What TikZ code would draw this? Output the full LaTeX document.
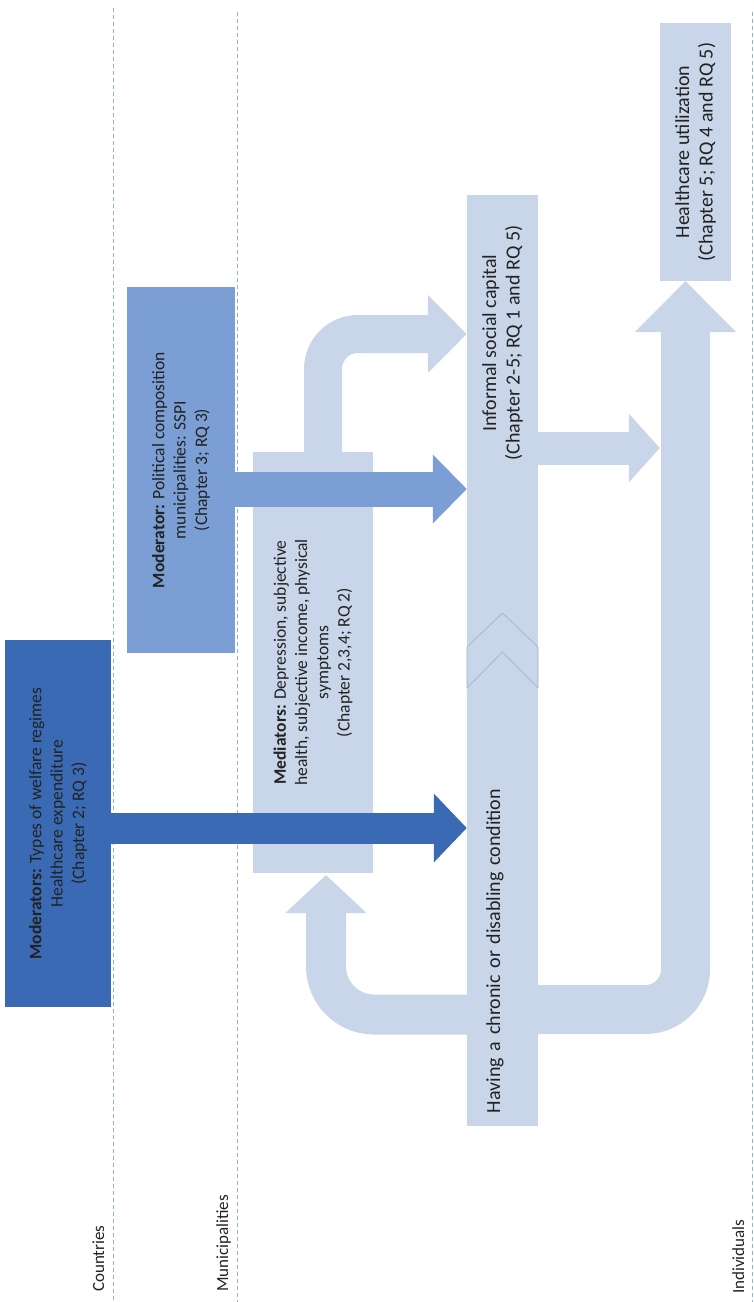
\documentclass[tikz,border=0pt]{standalone}
\usepackage{fontspec}
\setmainfont{Carlito}
\usepackage{tikz}
\usetikzlibrary{arrows.meta}
\definecolor{darkblue}{HTML}{3A6AB4}
\definecolor{midblue}{HTML}{7B9FD4}
\definecolor{paleblue}{HTML}{C9D6EA}
\definecolor{levelline}{HTML}{8FB4DC}
\definecolor{chevline}{HTML}{9CAFCB}
\definecolor{txt}{HTML}{222222}

\begin{document}
\begin{tikzpicture}[x=1pt, y=-1pt,
  box/.style={rotate=90, inner sep=0pt, align=center, text=txt,
    font=\fontsize{17.5}{21.3}\selectfont},
  big/.style={box, font=\fontsize{20}{23.5}\selectfont},
  level/.style={levelline, line width=0.8pt, dash pattern=on 4pt off 3pt},
  levelname/.style={rotate=90, anchor=base west, inner sep=0pt, text=txt,
    font=\fontsize{17}{20}\selectfont}]
\useasboundingbox (0,0) rectangle (754,1302);

% levels
\draw[level] (113,8) -- (113,1302);
\draw[level] (237,12) -- (237,1302);
\draw[level] (752,12) -- (752,1302);
\node[levelname] (countries) at (104,1292) {Countries};
\node[levelname] (municip) at (228,1292) {Municipalities};
\node[levelname] (indiv) at (744,1294) {Individuals};

% moderators
\node[box, fill=darkblue, minimum width=367, minimum height=106] (modC) at (58,823.5)
  {\textbf{Moderators:} Types of welfare regimes\\Healthcare expenditure\\(Chapter 2; RQ 3)};
\node[box, fill=midblue, minimum width=366, minimum height=108] (modM) at (181,470)
  {\textbf{Moderator:} Political composition\\municipalities: SSPI\\(Chapter 3; RQ 3)};

% individual level
\draw[paleblue, line width=40, rounded corners=48, -{Triangle[length=38pt,width=79pt]}]
  (502,1014.5) -| (326,875);
\draw[paleblue, line width=49, rounded corners=40, -{Triangle[length=51pt,width=98pt]}]
  (502,1009.5) -| (685.5,281);
\node[big, fill=paleblue, minimum width=258, minimum height=71] (care) at (695.5,152)
  {Healthcare utilization\\(Chapter 5; RQ 4 and RQ 5)};
\node[big, fill=paleblue, minimum width=296, minimum height=71] (social) at (502.5,343)
  {Informal social capital\\(Chapter 2-5; RQ 1 and RQ 5)};
\node[big, fill=paleblue, minimum width=635, minimum height=71, text width=609, align=left,
  text height=14pt, text depth=19pt]
  (cond) at (502.5,808.5) {Having a chronic or disabling condition};
\draw[chevline, fill=paleblue, line width=0.6pt] (467,647) -- (502.5,613) -- (538,647)
  -- (538,688) -- (502.5,652) -- (467,688) -- cycle;

\node[box, fill=paleblue, minimum width=421, minimum height=120] (medi) at (313,662.5)
  {\textbf{Mediators:} Depression, subjective\\health, subjective income, physical\\symptoms\\(Chapter 2,3,4; RQ 2)};
\draw[paleblue, line width=38, rounded corners=35, -{Triangle[length=39pt,width=76pt]}]
  ([xshift=10pt]medi.east) |- (social.north |- 0,334);
\draw[paleblue, line width=33, -{Triangle[length=31pt,width=67pt]}]
  (social.south |- 0,448) -- (care.north |- 0,448);

\draw[midblue, line width=35, -{Triangle[length=34pt,width=67pt]}]
  (modM.south |- 0,489) -- (social.north |- 0,489);
\draw[darkblue, line width=31, -{Triangle[length=33pt,width=67pt]}]
  (modC.south |- 0,828) -- (cond.north |- 0,828);

\end{tikzpicture}
\end{document}
